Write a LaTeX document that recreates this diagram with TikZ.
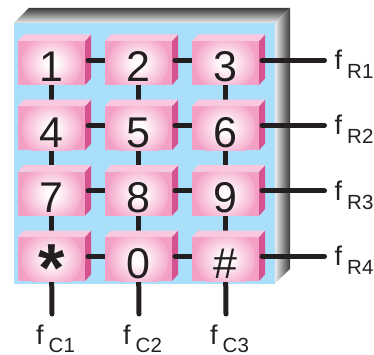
\documentclass[tikz,border=0pt]{standalone}
\usepackage{fontspec}
\setmainfont{Liberation Sans}
\usetikzlibrary{calc}
\definecolor{keypink}{HTML}{F49FC5}
\definecolor{keytop}{HTML}{F9C8DF}
\definecolor{keyside}{HTML}{D5548F}
\definecolor{panelblue}{HTML}{A9DFFB}
\definecolor{wirecol}{HTML}{231F20}
\definecolor{darkedge}{HTML}{3A3A3A}
\definecolor{lightedge}{HTML}{ECECEC}
\pgfdeclarelayer{panel}
\pgfdeclarelayer{sides}
\pgfdeclarelayer{wires}
\pgfsetlayers{panel,sides,wires,main}
\pgfdeclareradialshading{keyglow}{\pgfpoint{0bp}{0bp}}{color(0bp)=(white); color(5bp)=(white!94!keypink); color(25bp)=(keypink); color(50bp)=(keypink)}
\tikzset{
  x=1pt,y=-1pt,
  keyfront/.style={rectangle,inner sep=0pt,outer sep=0pt,minimum width=67pt,minimum height=44pt,fill=keypink,
    path picture={\shade[shading=keyglow] (path picture bounding box.center) circle (30pt);}},
  keynum/.style={anchor=base,inner sep=0pt,font=\fontsize{43}{43}\selectfont,text=wirecol},
  wire/.style={draw=wirecol,line width=5pt,line cap=round},
  wirein/.style={draw=wirecol,line width=5pt,line cap=butt},
  freq/.style={anchor=base west,inner sep=0pt,text=wirecol,font=\fontsize{27}{27}\selectfont},
  freqsub/.style={anchor=base west,inner sep=0pt,text=wirecol,font=\fontsize{20.5}{20.5}\selectfont},
}
\newcommand{\keycap}[4]{%
  \node[keyfront] (#1) at (#2,#3) {};
  \fill[keytop] (#1.north west) -- ++(6,-6.5) -- ++(67,0) -- (#1.north east) -- cycle;
  \begin{pgfonlayer}{sides}
    \fill[keyside] (#1.north east) -- ++(6,-6.5) -- ++(0,44) -- (#1.south east) -- cycle;
  \end{pgfonlayer}
  \node[keynum] (t#1) at (#2,#3+19) {#4};
}
\begin{document}
\begin{tikzpicture}
\useasboundingbox (0,0) rectangle (374,355);
\begin{pgfonlayer}{panel}
  \shade[top color=darkedge,bottom color=lightedge] (14,23) -- (29,8) -- (290,8) -- (275,23) -- cycle;
  \shade[left color=lightedge,right color=darkedge] (275,23) -- (290,8) -- (290,269) -- (275,283.5) -- cycle;
  \fill[panelblue] (14,23) rectangle (275,283.5);
\end{pgfonlayer}
\keycap{k1}{51.5}{63}{1}
\keycap{k2}{138.5}{63}{2}
\keycap{k3}{225.5}{63}{3}
\keycap{k4}{51.5}{128.2}{4}
\keycap{k5}{138.5}{128.2}{5}
\keycap{k6}{225.5}{128.2}{6}
\keycap{k7}{51.5}{193.7}{7}
\keycap{k8}{138.5}{193.7}{8}
\keycap{k9}{225.5}{193.7}{9}
\keycap{kstar}{51.5}{259}{}
\keycap{k0}{138.5}{259}{0}
\keycap{khash}{225.5}{259}{\#}
\node[anchor=base,inner sep=0pt,text=wirecol,font=\fontsize{68}{68}\selectfont\bfseries] (tstar) at (51.5,291) {*};
\coordinate (eR1) at (324.5,60.3);
\coordinate (eR2) at (324.5,125.5);
\coordinate (eR3) at (324.5,191);
\coordinate (eR4) at (324.5,256.3);
\coordinate (eC1) at (52,314);
\coordinate (eC2) at (139,314);
\coordinate (eC3) at (226,314);
\begin{pgfonlayer}{wires}
  \foreach \a/\b in {k1/k4,k4/k7,k7/kstar,k2/k5,k5/k8,k8/k0,k3/k6,k6/k9,k9/khash}
    \draw[wirein] (\a.south) -- ($(\b.north)+(0,-6)$);
  \foreach \a/\b in {k1/k2,k2/k3,k4/k5,k5/k6,k7/k8,k8/k9,kstar/k0,k0/khash}
    \draw[wire] ($(\a.east)+(3,-2.7)$) -- ($(\b.west)+(0,-2.7)$);
  \draw[wire] ($(k3.east)+(3,-2.7)$) -- (eR1);
  \draw[wire] ($(k6.east)+(3,-2.7)$) -- (eR2);
  \draw[wire] ($(k9.east)+(3,-2.7)$) -- (eR3);
  \draw[wire] ($(khash.east)+(3,-2.7)$) -- (eR4);
  \draw[wire] (kstar.center) -- (eC1);
  \draw[wire] (k0.center) -- (eC2);
  \draw[wire] (khash.center) -- (eC3);
\end{pgfonlayer}
\foreach \n/\y/\s in {R1/69.5/R1,R2/135/R2,R3/200.5/R3,R4/265.5/R4}{
  \node[freq] (f\n) at (334.5,\y) {f};
  \node[freqsub] (s\n) at (347,\y+9) {\s};
}
\foreach \n/\x/\s in {C1/36/C1,C2/123/C2,C3/210/C3}{
  \node[freq] (f\n) at (\x,344.5) {f};
  \node[freqsub] (s\n) at (\x+12.5,352.5) {\s};
}
\end{tikzpicture}
\end{document}
